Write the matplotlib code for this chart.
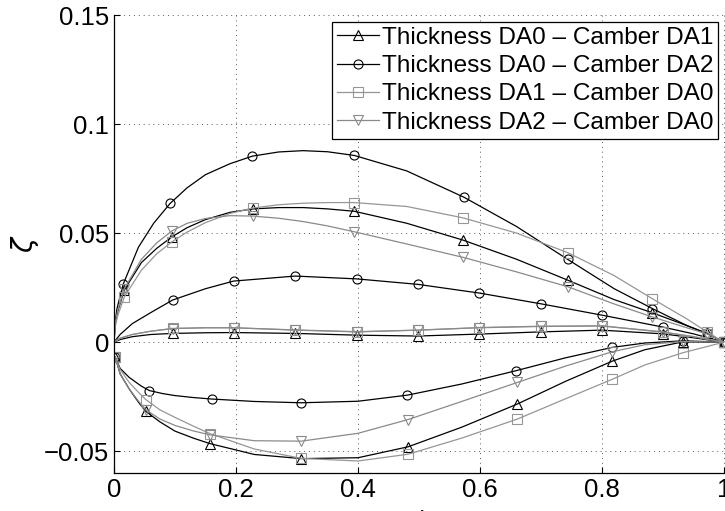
import matplotlib
matplotlib.use("Agg")
import matplotlib.pyplot as plt

plt.rcParams['font.family'] = ['Liberation Sans', 'DejaVu Sans']
plt.rcParams['axes.unicode_minus'] = True

labels = ["Thickness DA0 \u2013 Camber DA1",
          "Thickness DA0 \u2013 Camber DA2",
          "Thickness DA1 \u2013 Camber DA0",
          "Thickness DA2 \u2013 Camber DA0"]

# ---- upper surfaces ----
up_x_circ = [0, 0.002, 0.005, 0.015, 0.04, 0.065, 0.092, 0.12, 0.15, 0.19, 0.227, 0.27, 0.31, 0.35, 0.394,
             0.48, 0.574, 0.66, 0.744, 0.82, 0.8825, 0.94, 0.972, 1.0]
up_x = [0, 0.002, 0.006, 0.017, 0.045, 0.07, 0.095, 0.12, 0.15, 0.19, 0.228, 0.27, 0.31, 0.35, 0.394,
        0.48, 0.572, 0.66, 0.744, 0.82, 0.882, 0.94, 0.972, 1.0]
up_y_tri = [0, 0.0085, 0.0140, 0.0240, 0.0365, 0.0430, 0.0483, 0.0525, 0.0562, 0.0595, 0.0611, 0.0617,
            0.0617, 0.0611, 0.0600, 0.0545, 0.0468, 0.0380, 0.0284, 0.0195, 0.0135, 0.0075, 0.0040, 0]
up_y_circ = [0, 0.0095, 0.0155, 0.0265, 0.0435, 0.0545, 0.0636, 0.0708, 0.0768, 0.0818, 0.0853, 0.0872,
             0.0878, 0.0873, 0.0856, 0.0785, 0.0664, 0.0530, 0.0379, 0.0245, 0.0154, 0.0075, 0.0040, 0]
up_y_sq = [0, 0.0070, 0.0120, 0.0208, 0.0330, 0.0405, 0.0460, 0.0505, 0.0548, 0.0590, 0.0615, 0.0630,
           0.0637, 0.0640, 0.0640, 0.0622, 0.0570, 0.0500, 0.0410, 0.0305, 0.0200, 0.0105, 0.0047, 0]
up_y_tdn = [0, 0.0090, 0.0145, 0.0245, 0.0380, 0.0455, 0.0510, 0.0545, 0.0567, 0.0580, 0.0578, 0.0568,
            0.0553, 0.0533, 0.0506, 0.0450, 0.0389, 0.0322, 0.0254, 0.0175, 0.0116, 0.0065, 0.0038, 0]
up_marks = [3, 6, 10, 14, 16, 18, 20, 22, 23]

# ---- lower surfaces ----
lo_x_circ = [0.002, 0.01, 0.025, 0.045, 0.058, 0.08, 0.1, 0.13, 0.161, 0.23, 0.307, 0.4, 0.481, 0.57,
             0.659, 0.74, 0.817, 0.87, 0.932, 1.0]
lo_x = [0.002, 0.01, 0.025, 0.04, 0.052, 0.075, 0.1, 0.13, 0.157, 0.23, 0.307, 0.4, 0.482, 0.57,
        0.661, 0.74, 0.817, 0.87, 0.932, 1.0]
lo_y_tri = [-0.0068, -0.0145, -0.0215, -0.0275, -0.0317, -0.0365, -0.0408, -0.0440, -0.0465, -0.0515,
            -0.0534, -0.0530, -0.0480, -0.0390, -0.0284, -0.0180, -0.0087, -0.0035, 0.0001, 0]
lo_y_circ = [-0.0068, -0.0120, -0.0162, -0.0202, -0.0222, -0.0236, -0.0245, -0.0254, -0.0261, -0.0272,
             -0.0278, -0.0271, -0.0243, -0.0192, -0.0131, -0.0072, -0.0024, -0.0004, 0.0006, 0]
lo_y_sq = [-0.0068, -0.0125, -0.0185, -0.0230, -0.0263, -0.0310, -0.0345, -0.0385, -0.0419, -0.0490,
           -0.0533, -0.0545, -0.0514, -0.0440, -0.0353, -0.0260, -0.0170, -0.0105, -0.0049, 0]
lo_y_tdn = [-0.0068, -0.0145, -0.0215, -0.0270, -0.0310, -0.0352, -0.0382, -0.0407, -0.0425, -0.0452,
            -0.0454, -0.0418, -0.0355, -0.0272, -0.0185, -0.0110, -0.0044, -0.0012, 0.0003, 0]
lo_marks = [0, 4, 8, 10, 12, 14, 16, 18, 19]

# ---- camber lines ----
cam_x = [0, 0.01, 0.03, 0.06, 0.096, 0.15, 0.196, 0.297, 0.398, 0.498, 0.599, 0.6995, 0.7995, 0.9, 0.95, 1.0]
cam_y_tri = [0, 0.0012, 0.0025, 0.0035, 0.0040, 0.0043, 0.0044, 0.0040, 0.0032, 0.0028, 0.0037, 0.0047,
             0.0055, 0.0038, 0.0020, 0]
cam_y_circ = [0, 0.0035, 0.0085, 0.0135, 0.0193, 0.0245, 0.0280, 0.0303, 0.0290, 0.0265, 0.0225, 0.0176,
              0.0124, 0.0069, 0.0038, 0]
cam_y_sq = [0, 0.0018, 0.0035, 0.0050, 0.0063, 0.0066, 0.0066, 0.0055, 0.0047, 0.0055, 0.0067, 0.0073,
            0.0075, 0.0047, 0.0025, 0]
cam_y_tdn = [0, 0.0018, 0.0035, 0.0050, 0.0062, 0.0066, 0.0066, 0.0056, 0.0048, 0.0055, 0.0066, 0.0072,
             0.0074, 0.0046, 0.0025, 0]
cam_marks = [4, 6, 7, 8, 9, 10, 11, 12, 13, 15]

xticks = [0, 0.2, 0.4, 0.6, 0.8, 1]
xticklabels = ["0", "0.2", "0.4", "0.6", "0.8", "1"]
yticks = [-0.05, 0, 0.05, 0.1, 0.15]
yticklabels = ["\u22120.05", "0", "0.05", "0.1", "0.15"]

series = [
    dict(label=labels[0], marker='^', color='black',
         up=(up_x, up_y_tri), lo=(lo_x, lo_y_tri), cam=(cam_x, cam_y_tri)),
    dict(label=labels[1], marker='o', color='black',
         up=(up_x_circ, up_y_circ), lo=(lo_x_circ, lo_y_circ), cam=(cam_x, cam_y_circ)),
    dict(label=labels[2], marker='s', color='#969696',
         up=(up_x, up_y_sq), lo=(lo_x, lo_y_sq), cam=(cam_x, cam_y_sq)),
    dict(label=labels[3], marker='v', color='#8a8a8a',
         up=(up_x, up_y_tdn), lo=(lo_x, lo_y_tdn), cam=(cam_x, cam_y_tdn)),
]

fig = plt.figure(figsize=(7.25, 5.11), dpi=100)
ax = fig.add_axes([114/725, 38/511, 610/725, 458/511])

for s in series:
    kw = dict(color=s['color'], marker=s['marker'], markerfacecolor='none',
              markeredgecolor=s['color'], markersize=6.5, markeredgewidth=0.8, lw=0.9)
    ax.plot(*s['up'], markevery=up_marks, label=s['label'], **kw)
    ax.plot(*s['lo'], markevery=lo_marks, **kw)
    ax.plot(*s['cam'], markevery=cam_marks, **kw)

ax.set_xlim(0, 1)
ax.set_ylim(-0.06, 0.15)
ax.set_xticks(xticks)
ax.set_xticklabels(xticklabels)
ax.set_yticks(yticks)
ax.set_yticklabels(yticklabels)
ax.tick_params(direction='in', length=4, width=0.8, labelsize=18.5, pad=3.5,
               top=False, right=False)
for sp in ['top', 'right']:
    ax.spines[sp].set_visible(False)
for sp in ['left', 'bottom']:
    ax.spines[sp].set_linewidth(0.9)
ax.grid(True, color='0.35', linestyle=(0, (1, 4)), linewidth=0.7)
ax.set_axisbelow(True)
for gl in ax.get_xgridlines() + ax.get_ygridlines():
    gl.set_clip_on(False)

ax.set_ylabel(r"$\zeta$", fontsize=20, labelpad=2)
ax.set_xlabel(r"$x/c$", fontsize=18, labelpad=5)

leg = ax.legend(loc='upper right', bbox_to_anchor=(604/610, 1 - 7/458),
                fontsize=17.6, frameon=True, fancybox=False, framealpha=1,
                edgecolor='black', handlelength=1.7, handletextpad=0.12,
                labelspacing=0.25, borderpad=0.2, borderaxespad=0)
leg.get_frame().set_linewidth(0.9)

fig.savefig("out.png", dpi=100)
